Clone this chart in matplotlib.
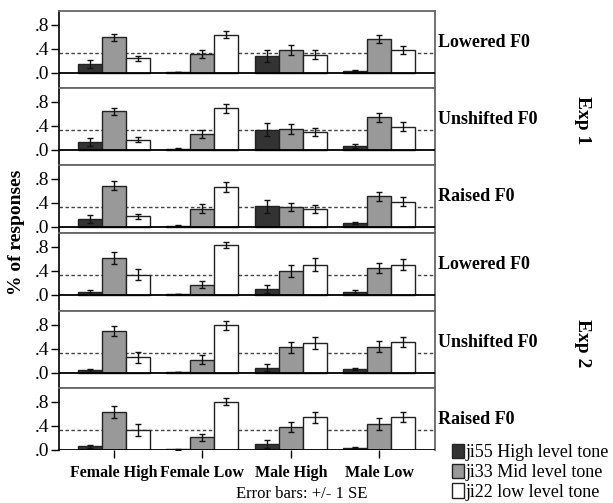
import matplotlib
matplotlib.use("Agg")
import matplotlib.pyplot as plt
from matplotlib.patches import Patch
import numpy as np

plt.rcParams['font.family'] = ['Liberation Serif', 'DejaVu Serif']

groups = ["Female High", "Female Low", "Male High", "Male Low"]
panels = ["Lowered F0", "Unshifted F0", "Raised F0",
          "Lowered F0", "Unshifted F0", "Raised F0"]
tones = ["ji55 High level tone", "ji33 Mid level tone", "ji22 low level tone"]

# proportion of responses, one row per panel, one column per group
high = [[0.156, 0.017, 0.278, 0.039],
        [0.134, 0.022, 0.335, 0.067],
        [0.134, 0.022, 0.341, 0.067],
        [0.051, 0.011, 0.102, 0.051],
        [0.040, 0.011, 0.085, 0.057],
        [0.056, 0.006, 0.095, 0.034]]
high_se = [[0.065, 0.005, 0.097, 0.010],
           [0.060, 0.006, 0.110, 0.028],
           [0.064, 0.006, 0.109, 0.020],
           [0.028, 0.004, 0.065, 0.034],
           [0.023, 0.004, 0.057, 0.017],
           [0.022, 0.003, 0.061, 0.012]]
mid = [[0.594, 0.317, 0.383, 0.561],
       [0.642, 0.263, 0.352, 0.542],
       [0.687, 0.307, 0.330, 0.508],
       [0.620, 0.170, 0.398, 0.449],
       [0.693, 0.216, 0.426, 0.437],
       [0.626, 0.207, 0.380, 0.430]]
mid_se = [[0.058, 0.064, 0.078, 0.067],
          [0.059, 0.067, 0.078, 0.070],
          [0.075, 0.070, 0.070, 0.075],
          [0.097, 0.054, 0.094, 0.085],
          [0.082, 0.074, 0.094, 0.088],
          [0.098, 0.059, 0.081, 0.092]]
low = [[0.244, 0.639, 0.306, 0.378],
       [0.173, 0.693, 0.300, 0.385],
       [0.179, 0.665, 0.300, 0.419],
       [0.335, 0.830, 0.506, 0.506],
       [0.261, 0.790, 0.494, 0.511],
       [0.330, 0.800, 0.542, 0.547]]
low_se = [[0.047, 0.061, 0.069, 0.069],
          [0.042, 0.075, 0.060, 0.073],
          [0.042, 0.078, 0.061, 0.073],
          [0.094, 0.054, 0.102, 0.090],
          [0.091, 0.080, 0.097, 0.085],
          [0.095, 0.059, 0.095, 0.089]]

colors = ['#333333', '#999999', '#ffffff']
chance = 1.0 / 3

W, H = 613, 503
fig = plt.figure(figsize=(W / 100, H / 100), dpi=100)

left, right = 59, 435
top0 = 11
ytop = 1.033
ybottoms = [-0.25, -0.25, -0.1, -0.265, -0.25, 0.0]
scale = 60.0  # px per unit

x = np.arange(len(groups))
bw = 0.271

top = top0
for p in range(6):
    h = (ytop - ybottoms[p]) * scale
    ax = fig.add_axes([left / W, 1 - (top + h) / H, (right - left) / W, h / H])
    top += h

    ax.axhline(chance, color='#444444', lw=1, ls=(0, (2.5, 1.8)), zorder=1)
    for k, (vals, se) in enumerate([(high, high_se), (mid, mid_se), (low, low_se)]):
        ax.bar(x + (k - 1) * bw, vals[p], bw, color=colors[k],
               edgecolor='#222222', linewidth=1, zorder=2)
        ax.errorbar(x + (k - 1) * bw, vals[p], yerr=se[p], fmt='none',
                    ecolor='#111111', elinewidth=1, capsize=2.2, capthick=1,
                    zorder=3)
    ax.axhline(0, color='black', lw=1.3, zorder=4)

    ax.set_xlim(-0.62, 3.63)
    ax.set_ylim(ybottoms[p], ytop)
    ax.set_yticks([0, 0.4, 0.8])
    ax.set_yticklabels(['.0', '.4', '.8'], fontsize=14)
    ax.tick_params(axis='y', direction='out', length=6, width=1, pad=1)
    for s in ['top', 'right', 'bottom']:
        ax.spines[s].set_color('#666666')
        ax.spines[s].set_linewidth(1.3)
    ax.spines['left'].set_color('black')
    ax.spines['left'].set_linewidth(1.2)
    if p < 5:
        ax.set_xticks([])
    else:
        ax.spines['bottom'].set_visible(False)
        ax.set_xticks(x)
        ax.set_xticklabels(groups, fontsize=11.5, fontweight='bold')
        ax.tick_params(axis='x', direction='out', length=6, width=1, pad=5)
    ax.text(1.008, 0.5, panels[p], transform=ax.get_yaxis_transform(),
            ha='left', va='center', fontsize=13, fontweight='bold')

fig.text(17 / W, 1 - 232 / H, "% of responses", rotation=90, ha='center',
         va='center', fontsize=14, fontweight='bold')
fig.text(582 / W, 1 - 120 / H, "Exp 1", rotation=-90, ha='center',
         va='center', fontsize=14, fontweight='bold')
fig.text(582 / W, 1 - 343 / H, "Exp 2", rotation=-90, ha='center',
         va='center', fontsize=14, fontweight='bold')
fig.text(302 / W, 1 - 494 / H, "Error bars: +/- 1 SE", ha='center',
         va='center', fontsize=12)

handles = [Patch(facecolor=c, edgecolor='#222222', linewidth=1) for c in colors]
fig.legend(handles, tones, loc='upper left', bbox_to_anchor=(452 / W, 1 - 444 / H),
           frameon=False, fontsize=13, handlelength=0.65, handleheight=0.85,
           handletextpad=0.1, labelspacing=0.12, borderpad=0, borderaxespad=0)

fig.savefig("out.png", dpi=100)
